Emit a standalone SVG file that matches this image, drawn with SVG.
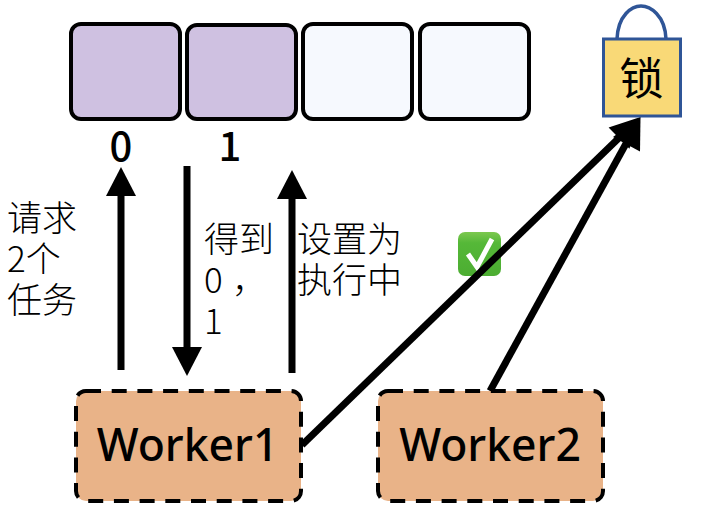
<svg xmlns="http://www.w3.org/2000/svg" width="709" height="508" viewBox="0 0 709 508">
<defs>
<linearGradient id="g" x1="0" y1="0" x2="0" y2="1"><stop offset="0" stop-color="#7cc84f"/><stop offset="0.25" stop-color="#55b838"/><stop offset="1" stop-color="#4cad32"/></linearGradient>
</defs>
<style>
.cell{stroke:#000;stroke-width:4}
.used{fill:#cfc1e1}
.free{fill:#f6f9fe}
.worker{fill:#e9b388;stroke:#000;stroke-width:4;stroke-dasharray:15 10.7}
.line{stroke:#000;stroke-width:7;fill:none}
text{font-family:"Noto Sans CJK SC","Noto Sans",sans-serif;fill:#000}
.lab{font-size:35px;font-weight:300}
.idx{font-size:40px;font-weight:500;text-anchor:middle}
.w{font-size:44.500px;font-weight:500;text-anchor:middle;font-family:"Noto Sans","Noto Sans CJK SC",sans-serif}
</style>
<g id="check">
<rect x="458" y="232" width="43" height="44" rx="7" fill="url(#g)"/>
<path d="M468 254L477 267 492 239" fill="none" stroke="#fff" stroke-width="5"/>
</g>
<g id="connectors">
<path class="line" d="M121 370V190"/><path d="M121 167l15 29h-30z"/>
<path class="line" d="M187 166V350"/><path d="M187 376l-15-29h30z"/>
<path class="line" d="M292 373V193"/><path d="M292 170l15 29h-30z"/>
<path class="line" d="M302 445L622 135"/><path d="M640.500 117L629.400 148.800 608.600 127.500z"/>
<path class="line" d="M490 391L628 140"/><path d="M640.500 117L640 151.500 613 137z"/>
</g>
<g id="cell0"><rect class="cell used" x="71" y="24" width="109" height="95" rx="10"/></g>
<g id="cell1"><rect class="cell used" x="187" y="25" width="109" height="94" rx="10"/></g>
<g id="cell2"><rect class="cell free" x="303" y="24" width="109" height="95" rx="10"/></g>
<g id="cell3"><rect class="cell free" x="420" y="24" width="109" height="95" rx="10"/></g>
<g id="index0"><text class="idx" x="121" y="161">0</text></g>
<g id="index1"><text class="idx" x="230" y="161">1</text></g>
<g id="lock">
<path d="M617 39C618 15 632 6 641 6S665 15 666 39" fill="none" stroke="#2f5597" stroke-width="3.500"/>
<rect x="603.500" y="39" width="77" height="77" fill="#f9d977" stroke="#2f5597" stroke-width="3"/>
<text x="641.500" y="95" font-size="44" text-anchor="middle">锁</text>
</g>
<g id="worker1"><rect class="worker" x="76" y="391" width="225" height="110" rx="10"/><text class="w" x="187.500" y="461">Worker1</text></g>
<g id="worker2"><rect class="worker" x="378" y="391" width="225" height="110" rx="10"/><text class="w" x="490" y="461">Worker2</text></g>
<g id="label-request"><text class="lab" x="7" y="231">请求</text><text class="lab" x="7" y="272">2个</text><text class="lab" x="7" y="313">任务</text></g>
<g id="label-get"><text class="lab" x="204" y="252">得到</text><text class="lab" x="204" y="293">0</text><text class="lab" x="232" y="293">，</text><text class="lab" x="204" y="334">1</text></g>
<g id="label-set"><text class="lab" x="297" y="252">设置为</text><text class="lab" x="297" y="293">执行中</text></g>
</svg>
